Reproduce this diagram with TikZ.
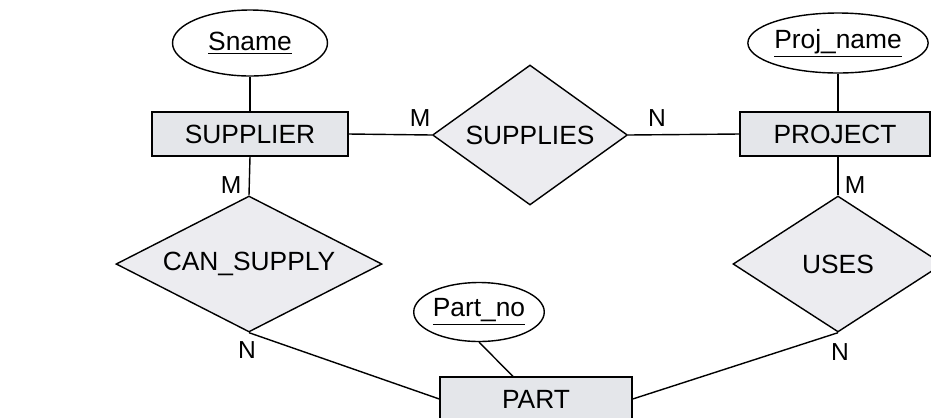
\documentclass[tikz,border=0pt]{standalone}
\usepackage{fontspec}
\setmainfont{Liberation Sans}
\usetikzlibrary{shapes.geometric}
\definecolor{entfill}{RGB}{228,230,234}
\definecolor{relfill}{RGB}{236,236,240}

\begin{document}
\begin{tikzpicture}[x=0.02cm,y=-0.02cm,line width=0.8pt,
  font=\fontsize{15}{18}\selectfont,
  entity/.style={draw,fill=entfill,minimum height=0.88cm,inner sep=0pt},
  relation/.style={draw,fill=relfill,diamond,aspect=2,inner sep=0pt},
  attrib/.style={draw,fill=white,ellipse,inner sep=0pt},
  card/.style={inner sep=0pt,font=\fontsize{14}{16}\selectfont}]
  % page frame
  \clip (0,0) rectangle (931,417);
  % entities
  \node[entity,minimum width=3.92cm] (supplier) at (250,134) {SUPPLIER};
  \node[entity,minimum width=3.8cm] (project) at (835,134) {PROJECT};
  \node[entity,minimum width=3.84cm] (part) at (536,399) {PART};
  % relationships
  \node[relation,minimum width=3.9cm,minimum height=2.8cm] (supplies) at (530,135) {SUPPLIES};
  \node[relation,minimum width=5.32cm,minimum height=2.72cm] (cansupply) at (249,264) {CAN\_SUPPLY};
  \node[relation,minimum width=4.2cm,minimum height=2.72cm] (uses) at (838,264) {USES};
  % key attributes
  \node[attrib,minimum width=3.1cm,minimum height=1.32cm] (sname) at (250,43) {\underline{Sname}};
  \node[attrib,minimum width=3.14cm,minimum height=1.2cm] (projname) at (838,43) {\underline{Proj\_name}};
  \node[attrib,minimum width=2.56cm,minimum height=1.18cm] (partno) at (479,312) {\underline{Part\_no}};
  % links
  \draw (sname) -- (supplier);
  \draw (projname.south) -- (projname.south |- project.north);
  \draw (partno.south) -- ([xshift=-0.46cm]part.north);
  \draw (supplier.east) -- (supplies.west);
  \draw (supplies.east) -- (project.west);
  \draw (supplier.south) -- (cansupply.north);
  \draw (cansupply.south) -- (part.west);
  \draw (uses.north |- project.south) -- (uses.north);
  \draw (uses.south) -- (part.east);
  % cardinalities
  \node[card] (m1) at (420,118) {M};
  \node[card] (n1) at (657,118) {N};
  \node[card] (m2) at (231,185) {M};
  \node[card] (m3) at (855,185) {M};
  \node[card] (n2) at (247,350) {N};
  \node[card] (n3) at (840,352) {N};
\end{tikzpicture}
\end{document}
